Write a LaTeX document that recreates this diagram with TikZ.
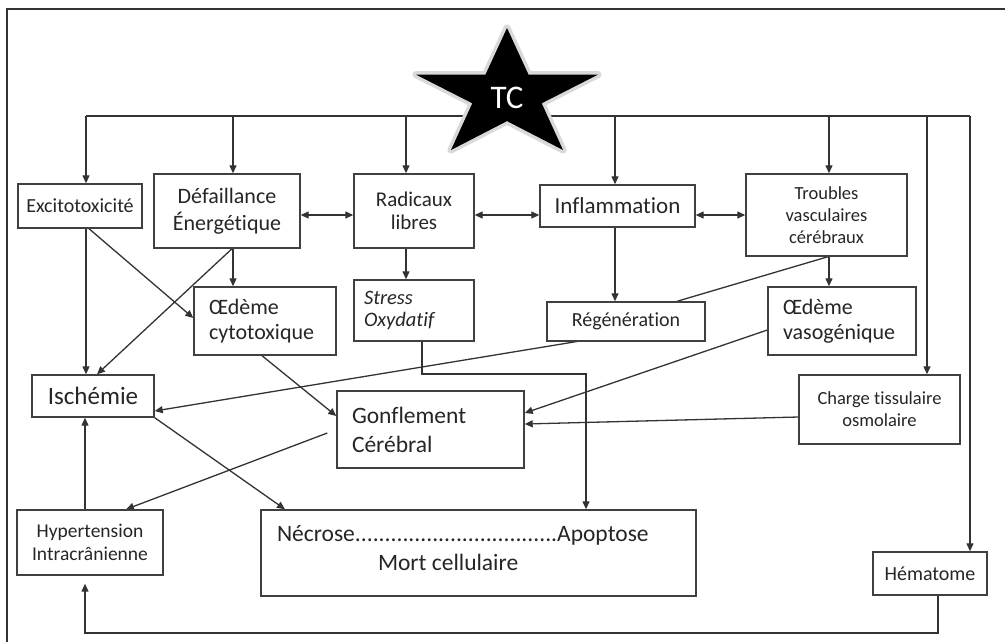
\documentclass[tikz,border=0pt]{standalone}
\usepackage{fontspec}
\setmainfont[Ligatures=NoCommon]{Carlito}
\usetikzlibrary{arrows.meta,backgrounds}
\newcommand\necdots{\xleaders\hbox{.}\hfill}
\begin{document}
\begin{tikzpicture}[x=1pt,y=-1pt,
  box/.style={draw=black!75, line width=1.4pt, fill=white, inner sep=0pt, align=center, text=black!85},
  nbox/.style={draw=black!75, line width=1.4pt, fill=white, inner sep=0pt, text=black!85},
  arr/.style={draw=black!80, line width=1.3pt, -{Triangle[length=8pt,width=7pt]}},
  darr/.style={draw=black!80, line width=1.3pt, {Triangle[length=8pt,width=7pt]}-{Triangle[length=8pt,width=7pt]}},
  ln/.style={draw=black!80, line width=1.3pt}]
\useasboundingbox (0,0) rectangle (1005,641);

% boxes
\node[box, minimum width=124, minimum height=44, font={\fontsize{20}{23}\selectfont}] (exc) at (80,206) {Excitotoxicité};
\node[box, minimum width=146, minimum height=74, font={\fontsize{22}{27}\selectfont}] (def) at (227,211) {Défaillance\\Énergétique};
\node[box, minimum width=120, minimum height=74, font={\fontsize{21}{23}\selectfont}] (rad) at (414,211) {Radicaux\\libres};
\node[box, minimum width=155, minimum height=42, font={\fontsize{23}{27}\selectfont}] (inf) at (617.5,206) {Inflammation};
\node[box, minimum width=161, minimum height=82, font={\fontsize{18.5}{22}\selectfont}] (trb) at (826.5,215) {Troubles\\vasculaires\\cérébraux};
\node[box, minimum width=120, minimum height=61, text width=100, align=left, font={\fontsize{20.5}{22}\selectfont\itshape}] (stress) at (414,310.5) {Stress\\Oxydatif};
\node[box, minimum width=142, minimum height=68, text width=112, align=left, font={\fontsize{22}{25}\selectfont}] (cyto) at (265,321) {Œdème\\cytotoxique};
\node[box, minimum width=158, minimum height=39, font={\fontsize{20}{24}\selectfont}] (reg) at (626,321.5) {Régénération};
\node[box, minimum width=148, minimum height=68, text width=118, align=left, font={\fontsize{22}{25}\selectfont}] (vaso) at (842,321) {Œdème\\vasogénique};
\node[box, minimum width=122, minimum height=42, font={\fontsize{25}{29}\selectfont}] (isch) at (93,396) {Ischémie};
\node[box, minimum width=187, minimum height=77, text width=157, align=left, font={\fontsize{23.5}{29}\selectfont}] (gonf) at (430.5,429.5) {Gonflement\\Cérébral};
\node[box, minimum width=161, minimum height=69, font={\fontsize{18.5}{22}\selectfont}] (charge) at (879.5,409.5) {Charge tissulaire\\osmolaire};
\node[box, minimum width=146, minimum height=65, font={\fontsize{19.5}{23}\selectfont}] (hyp) at (90,542.5) {Hypertension\\Intracrânienne};
\node[nbox, minimum width=435, minimum height=86, font={\fontsize{23.5}{29}\selectfont}] (necr) at (478.5,553) {\begin{minipage}[c][84pt][t]{433pt}\rule{0pt}{30pt}\hspace*{15pt}\makebox[372pt]{Nécrose\necdots Apoptose}\\\hspace*{116pt}Mort cellulaire\end{minipage}};
\node[box, minimum width=114, minimum height=43, font={\fontsize{20}{24}\selectfont}] (hema) at (930,573.5) {Hématome};

% star
\draw[black!15, line width=7pt, line join=round, fill=black]
  (507,28) -- (528.5,74.6) -- (598,74.6) -- (541.7,103.3) -- (563,150) -- (507,121.1)
  -- (451,150) -- (472.3,103.3) -- (416,74.6) -- (485.5,74.6) -- cycle;
\fill[black]
  (507,28) -- (528.5,74.6) -- (598,74.6) -- (541.7,103.3) -- (563,150) -- (507,121.1)
  -- (451,150) -- (472.3,103.3) -- (416,74.6) -- (485.5,74.6) -- cycle;
\node[text=white, font={\fontsize{33}{33}\selectfont}] (tc) at (507,98) {TC};

\begin{scope}[on background layer]
\fill[white] (0,0) rectangle (1005,641);
\draw[black!80, line width=1.8pt] (7,650) -- (7,9) -- (1015,9);
% bus
\coordinate (b1) at (86,116);
\coordinate (b2) at (233,116);
\coordinate (b3) at (406,116);
\coordinate (b4) at (615,116);
\coordinate (b5) at (829,116);
\coordinate (b6) at (927,116);
\coordinate (b7) at (970,116);
\draw[ln] (b1) -- (b7);
\draw[arr] (b1) -- (b1 |- exc.north);
\draw[arr] (b2) -- (b2 |- def.north);
\draw[arr] (b3) -- (b3 |- rad.north);
\draw[arr] (b4) -- (b4 |- inf.north);
\draw[arr] (b5) -- (b5 |- trb.north);
\draw[arr] (b6) -- (b6 |- charge.north);
\draw[arr] (b7) -- (b7 |- hema.north);
% horizontal double arrows
\draw[darr] (def.east |- 0,215) -- (rad.west |- 0,215);
\draw[darr] (rad.east |- 0,215) -- (inf.west |- 0,215);
\draw[darr] (inf.east |- 0,215) -- (trb.west |- 0,215);
% vertical links
\draw[arr] (b1 |- exc.south) -- (b1 |- isch.north);
\draw[arr] (b2 |- def.south) -- (b2 |- cyto.north);
\draw[arr] (b3 |- rad.south) -- (b3 |- stress.north);
\draw[arr] (b4 |- inf.south) -- (b4 |- reg.north);
\draw[arr] (b5 |- trb.south) -- (b5 |- vaso.north);
% diagonals
\draw[arr] (exc.south -| 89,0) -- (cyto.west |- 0,318);
\draw[arr] (def.south -| 232,0) -- (isch.north -| 97,0);
\draw[arr] (trb.south -| 828,0) -- (678,301) -- (580,341) -- (isch.east |- 0,411);
\draw[arr] (stress.south -| 422,0) |- (586,374) -- (necr.north -| 586,0);
\draw[arr] (vaso.west |- 0,330) -- (gonf.east |- 0,413);
\draw[arr] (charge.west |- 0,417) -- (gonf.east |- 0,424);
\draw[arr] (cyto.south -| 262,0) -- (gonf.west |- 0,416);
\draw[arr] ([xshift=-9pt]gonf.west |- 0,433) -- (hyp.north -| 126,0);
\draw[arr] (isch.south east) -- (necr.north -| 285,0);
\draw[arr] (hyp.north -| 85,0) -- (isch.south -| 85,0);
\draw[arr] (hema.south -| 938,0) |- (85,633) -- ([yshift=-8pt]hyp.south -| 85,0);
\end{scope}
\end{tikzpicture}
\end{document}
